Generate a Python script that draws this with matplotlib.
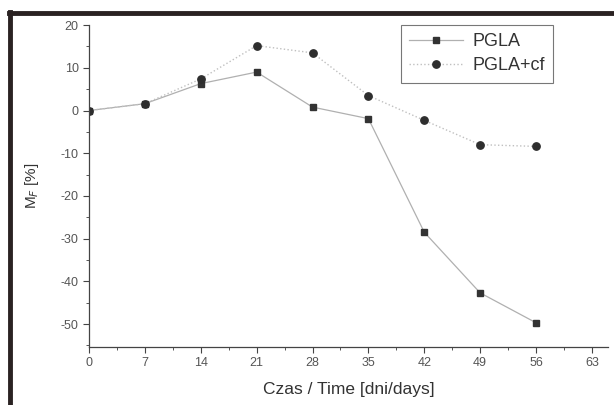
import matplotlib
matplotlib.use('Agg')
import matplotlib.pyplot as plt
from matplotlib.lines import Line2D
from matplotlib.ticker import MultipleLocator

plt.rcParams['font.family'] = ['Liberation Sans', 'DejaVu Sans']
plt.rcParams['axes.unicode_minus'] = False

# Data
days = [0, 7, 14, 21, 28, 35, 42, 49, 56]
pgla = [0, 1.6, 6.3, 9.0, 0.8, -1.9, -28.5, -42.7, -49.7]
pgla_cf = [0, 1.6, 7.4, 15.2, 13.5, 3.5, -2.3, -8.0, -8.4]
x_ticks = [0, 7, 14, 21, 28, 35, 42, 49, 56, 63]
y_ticks = [20, 10, 0, -10, -20, -30, -40, -50]

fig = plt.figure(figsize=(6.14, 4.05), dpi=100)
fig.patch.set_facecolor('white')
ax = fig.add_axes([0.145, 0.144, 0.845, 0.794])

# scan frame (thick dark border at left and top)
fig.add_artist(Line2D([0.016, 0.016], [0.0, 0.97], transform=fig.transFigure,
                      color='#2a2222', lw=3.5))
fig.add_artist(Line2D([0.014, 1.0], [0.968, 0.968], transform=fig.transFigure,
                      color='#2a2222', lw=3.5))

ax.plot(days, pgla, color='#b0b0b0', lw=0.9, ls='-',
        marker='s', ms=4.8, mfc='#333333', mec='#333333', label='PGLA')
ax.plot(days, pgla_cf, color='#c0c0c0', lw=1.0, ls=':',
        marker='o', ms=5.3, mfc='#2e2e2e', mec='#2e2e2e', label='PGLA+cf')

ax.set_xlim(0, 65)
ax.set_ylim(-55.3, 20)
ax.set_xticks(x_ticks)
ax.set_yticks(y_ticks)
ax.xaxis.set_minor_locator(MultipleLocator(3.5))
ax.yaxis.set_minor_locator(MultipleLocator(5))

for s in ['top', 'right']:
    ax.spines[s].set_visible(False)
for s in ['left', 'bottom']:
    ax.spines[s].set_color('#444444')
    ax.spines[s].set_linewidth(0.9)

ax.tick_params(axis='both', which='major', direction='out', length=4,
               width=0.8, color='#444444', labelsize=9, labelcolor='#555555')
ax.tick_params(axis='both', which='minor', direction='out', length=2.5,
               width=0.7, color='#555555')

ax.set_xlabel('Czas / Time [dni/days]', fontsize=12.5, color='#333333', labelpad=9)
ax.set_ylabel('M$_F$ [%]', fontsize=11, color='#333333', labelpad=14)

leg = fig.legend(loc='upper left', bbox_to_anchor=(392 / 614, 1 - 16 / 405),
                 fontsize=13, frameon=True, fancybox=False, edgecolor='#555555',
                 handlelength=3.0, borderpad=0.45, labelspacing=0.4,
                 handletextpad=0.5)
leg.get_frame().set_linewidth(0.8)
for t in leg.get_texts():
    t.set_color('#333333')

fig.savefig('out.png', dpi=100, facecolor='white')
